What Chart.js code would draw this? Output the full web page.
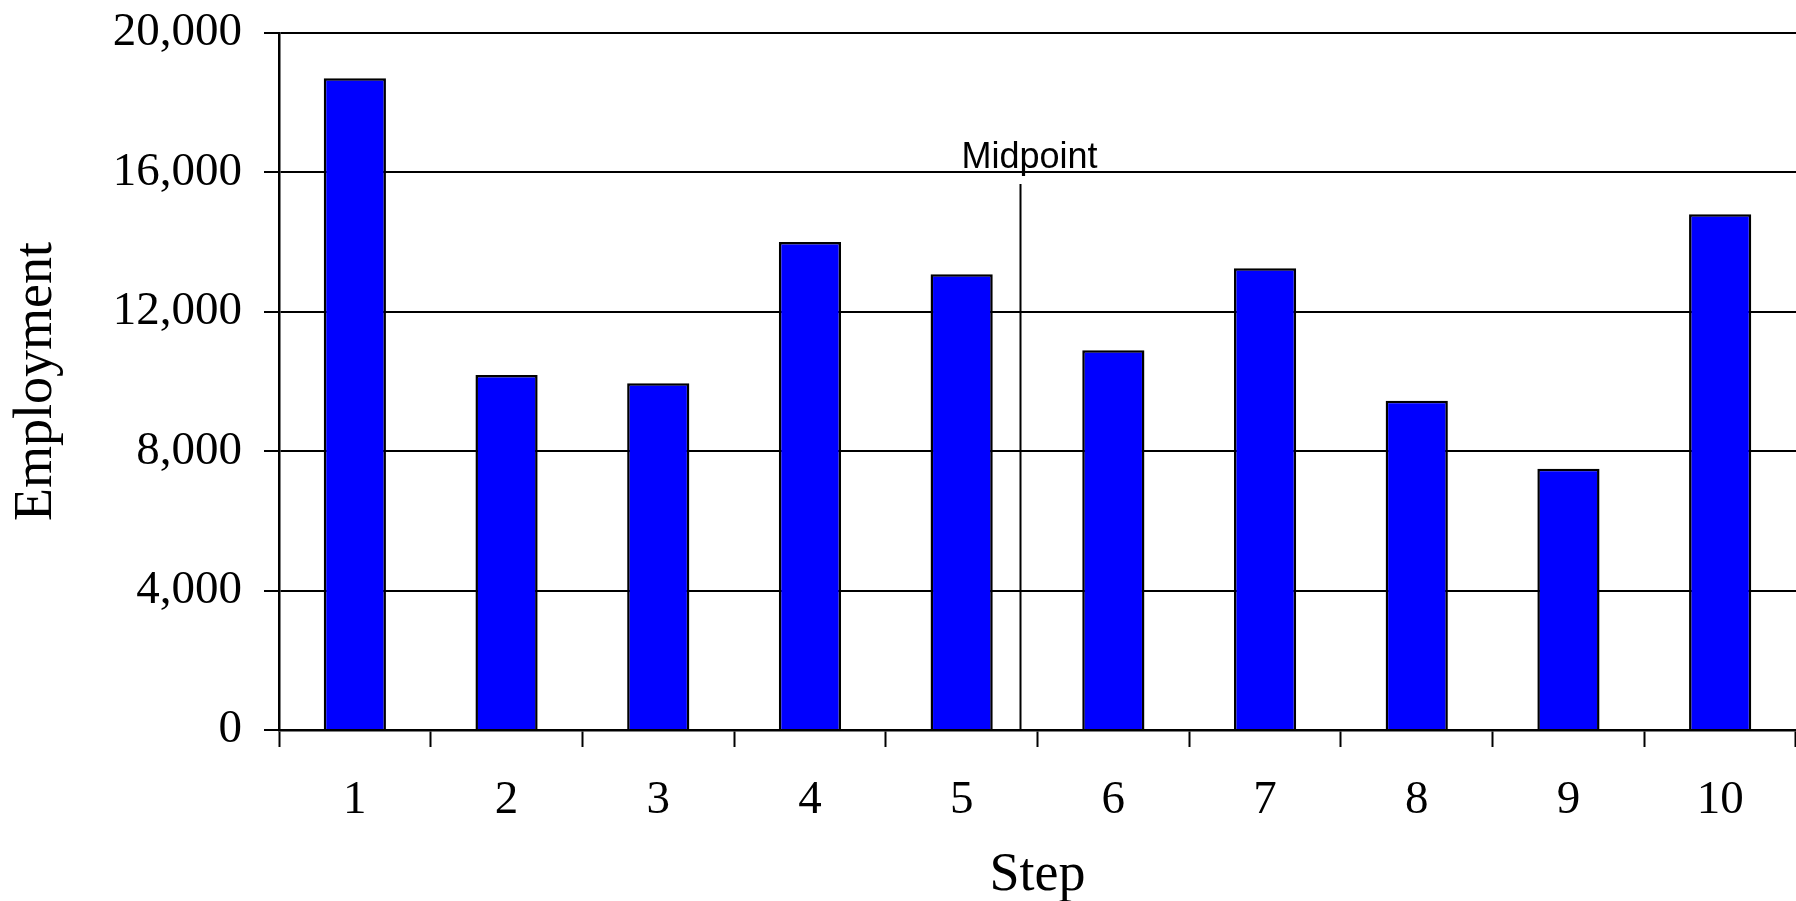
<!DOCTYPE html>
<html>
<head>
<meta charset="utf-8">
<title>Employment by step</title>
<script src="https://cdn.jsdelivr.net/npm/chart.js@4/dist/chart.umd.min.js"></script>
<style>
  html, body { margin: 0; padding: 0; background: #fff; }
  #wrap { width: 1796px; height: 901px; }
</style>
</head>
<body>
<div id="wrap"><canvas id="empChart" width="1796" height="901"></canvas></div>
<script>
// datos del gráfico
const steps      = ['1', '2', '3', '4', '5', '6', '7', '8', '9', '10'];
const employment = [18700, 10190, 9950, 14000, 13080, 10900, 13250, 9450, 7500, 14800];
const yTicks     = [0, 4000, 8000, 12000, 16000, 20000];

// línea vertical "Midpoint": posición en índice de categoría y altura en unidades del eje y
const midpointIndex = 4.385;
const midpointTop   = 15670;
const midpointLabel = 'Midpoint';

const serif = '"Liberation Serif", "Times New Roman", serif';
const sans  = '"Liberation Sans", Arial, sans-serif';

const fmtNum = n => n.toLocaleString('en-US');

// dibuja la línea de la mitad y su etiqueta sobre las barras
const midpointPlugin = {
  id: 'midpoint',
  afterDatasetsDraw(chart) {
    const { ctx, scales: { x, y } } = chart;
    const px  = Math.round(x.getPixelForValue(midpointIndex)) + 0.5;
    const top = y.getPixelForValue(midpointTop);
    const bot = y.getPixelForValue(0);
    ctx.save();
    ctx.strokeStyle = '#000';
    ctx.lineWidth = 2;
    ctx.beginPath();
    ctx.moveTo(px, top);
    ctx.lineTo(px, bot);
    ctx.stroke();
    ctx.fillStyle = '#000';
    ctx.font = `36px ${sans}`;
    ctx.textAlign = 'center';
    ctx.textBaseline = 'alphabetic';
    ctx.fillText(midpointLabel, px + 9, top - 16);
    ctx.restore();
  }
};

new Chart(document.getElementById('empChart'), {
  type: 'bar',
  data: {
    labels: steps,
    datasets: [{
      data: employment,
      backgroundColor: '#0000ff',
      borderColor: '#000',
      borderWidth: 2.5,
      categoryPercentage: 1,
      barPercentage: 0.41,
    }],
  },
  options: {
    responsive: false,
    animation: false,
    layout: { padding: { top: 33, right: 0, bottom: 0, left: 0 } },
    plugins: {
      legend: { display: false },
      tooltip: { enabled: false },
    },
    scales: {
      x: {
        offset: true,
        grid: {
          display: true,
          offset: true,
          drawOnChartArea: false,
          drawTicks: true,
          tickLength: 17,
          tickColor: '#000',
          tickWidth: 2,
        },
        border: { display: true, color: '#000', width: 2.5 },
        ticks: {
          color: '#000',
          padding: 25,
          maxRotation: 0,
          font: { family: serif, size: 47 },
        },
        title: {
          display: true,
          text: 'Step',
          color: '#000',
          font: { family: serif, size: 54, lineHeight: 0.95 },
          padding: { top: 0, bottom: 0 },
        },
        afterFit: s => { s.height = 171; },
      },
      y: {
        min: 0,
        max: 20000,
        afterBuildTicks: s => { s.ticks = yTicks.map(v => ({ value: v })); },
        grid: {
          color: '#000',
          lineWidth: 2,
          drawTicks: true,
          tickLength: 15,
          tickColor: '#000',
          tickWidth: 2,
        },
        border: { display: true, color: '#000', width: 2.5 },
        ticks: {
          color: '#000',
          padding: 22,
          font: { family: serif, size: 47 },
          callback: v => fmtNum(v),
        },
        title: {
          display: true,
          text: 'Employment',
          color: '#000',
          font: { family: serif, size: 54, lineHeight: 1 },
          padding: { top: 10, bottom: 0 },
        },
        // ancho fijo del eje y sin margen extra arriba/abajo para las etiquetas
        afterFit: s => {
          s.width = 279;
          s.paddingTop = 0;
          s.paddingBottom = 0;
        },
      },
    },
  },
  plugins: [midpointPlugin],
});
</script>
</body>
</html>
